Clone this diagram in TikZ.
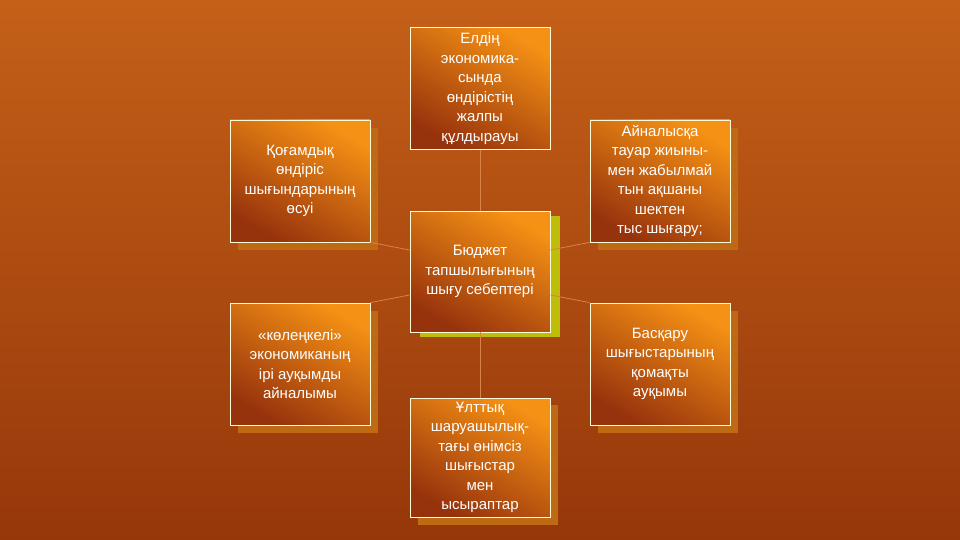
\documentclass[tikz,border=0pt]{standalone}
\usepackage{fontspec}
\setmainfont{Liberation Sans}
\definecolor{bgtop}{RGB}{196,96,24}
\definecolor{bgbot}{RGB}{150,55,10}
\definecolor{bxdark}{RGB}{150,50,12}
\definecolor{bxlight}{RGB}{245,145,20}
\definecolor{shad}{RGB}{190,105,20}
\definecolor{olive}{RGB}{190,190,10}
\definecolor{conn}{RGB}{215,130,70}
\begin{document}
\begin{tikzpicture}[x=1pt,y=-1pt,
  bx/.style={draw=white!85!yellow, line width=0.8pt, minimum width=140pt, minimum height=122pt,
    align=center, text=white, font=\fontsize{15}{19.5}\selectfont, inner sep=1pt,
    shading=axis, top color=bxlight, bottom color=bxdark, shading angle=-30},
  conn/.style={draw=conn, line width=0.8pt}]
\shade[top color=bgtop, bottom color=bgbot] (0,0) rectangle (960,540);
\useasboundingbox (0,0) rectangle (960,540);
% shadows
\fill[shad] (238,128) rectangle (378,250);
\fill[shad] (598,128) rectangle (738,250);
\fill[shad] (238,311) rectangle (378,433);
\fill[shad] (598,311) rectangle (738,433);
\fill[shad] (418,405) rectangle (558,525);
\fill[olive] (420,216) rectangle (560,337);
\node[bx] (top) at (480,88.5) {Елдің\\экономика-\\сында\\өндірістің\\жалпы\\құлдырауы};
\node[bx] (l1) at (300,181) {Қоғамдық\\өндіріс\\шығындарының\\өсуі};
\node[bx] (r1) at (660,181) {Айналысқа\\тауар жиыны-\\мен жабылмай\\тын ақшаны\\шектен\\тыс шығару;};
\node[bx, minimum height=121pt] (cen) at (480,271.5) {Бюджет\\тапшылығының\\шығу себептері};
\node[bx] (l2) at (300,364) {«көлеңкелі»\\экономиканың\\ірі ауқымды\\айналымы};
\node[bx] (r2) at (660,364) {Басқару\\шығыстарының\\қомақты\\ауқымы};
\node[bx, minimum height=119pt] (bot) at (480,457.5) {Ұлттық\\шаруашылық-\\тағы өнімсіз\\шығыстар\\мен\\ысыраптар};
% connectors
\draw[conn] (top) -- (cen);
\draw[conn] (cen) -- (bot);
\draw[conn] (l1.south east) -- (cen.west |- 0,250);
\draw[conn] (r1.south west) -- (cen.east |- 0,250);
\draw[conn] (l2.north east) -- (cen.west |- 0,295);
\draw[conn] (r2.north west) -- (cen.east |- 0,295);
\end{tikzpicture}
\end{document}
